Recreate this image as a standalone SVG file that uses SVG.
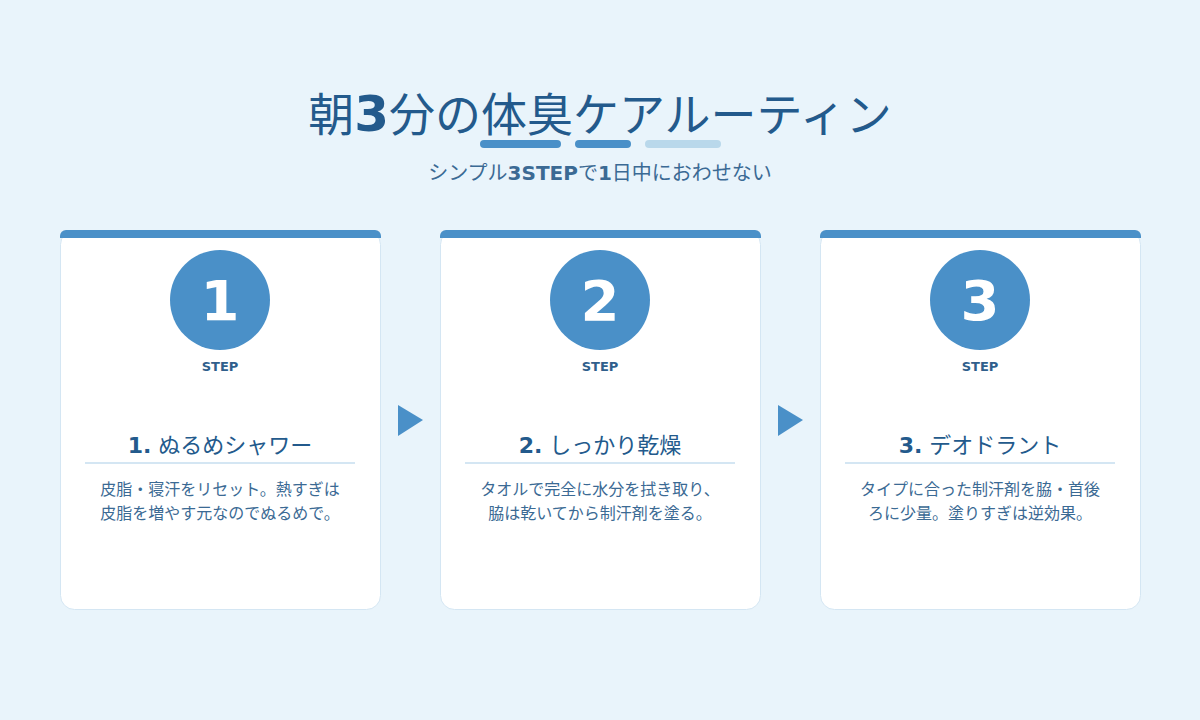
<svg xmlns="http://www.w3.org/2000/svg" width="1200" height="720" viewBox="0 0 1200 720">
<style>
text{font-family:"DejaVu Sans","Noto Sans CJK JP",sans-serif;text-anchor:middle}
.card{fill:#fff;stroke:#d4e6f3;stroke-width:1}
.bar{fill:#4a90c8}
.num{fill:#fff;font-size:56px;font-weight:bold}
.step{fill:#2f5f8c;font-size:13px;font-weight:bold}
.ttl{fill:#235a8c;font-size:22px}
.desc{fill:#3b6a94;font-size:16px}
.sep{stroke:#d4e6f3;stroke-width:2}
</style>
<rect width="1200" height="720" fill="#e9f4fb"/>
<text x="600" y="131" font-size="46" fill="#235a8c">朝<tspan font-weight="bold" font-size="50">3</tspan>分の体臭ケアルーティン</text>
<rect x="480" y="140" width="81" height="8" rx="4" fill="#4a90c8"/>
<rect x="575" y="140" width="56" height="8" rx="4" fill="#4a90c8"/>
<rect x="645" y="140" width="76" height="8" rx="4" fill="#b9d8eb"/>
<text x="600" y="180" font-size="20" fill="#3b6a94">シンプル<tspan font-weight="bold">3STEP</tspan>で<tspan font-weight="bold">1</tspan>日中におわせない</text>
<g id="step1">
<rect class="card" x="60.500" y="230.500" width="320" height="379" rx="14"/>
<path class="bar" d="M60 238V236a6 6 0 0 1 6-6H375a6 6 0 0 1 6 6V238Z"/>
<circle cx="220" cy="300" r="50" fill="#4a90c8"/>
<text class="num" x="220" y="320">1</text>
<text class="step" x="220" y="371">STEP</text>
<text class="ttl" x="220" y="453"><tspan font-weight="bold">1.</tspan> ぬるめシャワー</text>
<line class="sep" x1="85" y1="463" x2="355" y2="463"/>
<text class="desc" x="220" y="495">皮脂・寝汗をリセット。熱すぎは</text>
<text class="desc" x="220" y="519">皮脂を増やす元なのでぬるめで。</text>
</g>
<g id="step2">
<rect class="card" x="440.500" y="230.500" width="320" height="379" rx="14"/>
<path class="bar" d="M440 238V236a6 6 0 0 1 6-6H755a6 6 0 0 1 6 6V238Z"/>
<circle cx="600" cy="300" r="50" fill="#4a90c8"/>
<text class="num" x="600" y="320">2</text>
<text class="step" x="600" y="371">STEP</text>
<text class="ttl" x="600" y="453"><tspan font-weight="bold">2.</tspan> しっかり乾燥</text>
<line class="sep" x1="465" y1="463" x2="735" y2="463"/>
<text class="desc" x="600" y="495">タオルで完全に水分を拭き取り、</text>
<text class="desc" x="600" y="519">脇は乾いてから制汗剤を塗る。</text>
</g>
<g id="step3">
<rect class="card" x="820.500" y="230.500" width="320" height="379" rx="14"/>
<path class="bar" d="M820 238V236a6 6 0 0 1 6-6H1135a6 6 0 0 1 6 6V238Z"/>
<circle cx="980" cy="300" r="50" fill="#4a90c8"/>
<text class="num" x="980" y="320">3</text>
<text class="step" x="980" y="371">STEP</text>
<text class="ttl" x="980" y="453"><tspan font-weight="bold">3.</tspan> デオドラント</text>
<line class="sep" x1="845" y1="463" x2="1115" y2="463"/>
<text class="desc" x="980" y="495">タイプに合った制汗剤を脇・首後</text>
<text class="desc" x="980" y="519">ろに少量。塗りすぎは逆効果。</text>
</g>
<g id="connectors" fill="#4a90c8">
<path d="M398 405L423 420L398 436Z"/>
<path d="M778 405L803 420L778 436Z"/>
</g>
</svg>
